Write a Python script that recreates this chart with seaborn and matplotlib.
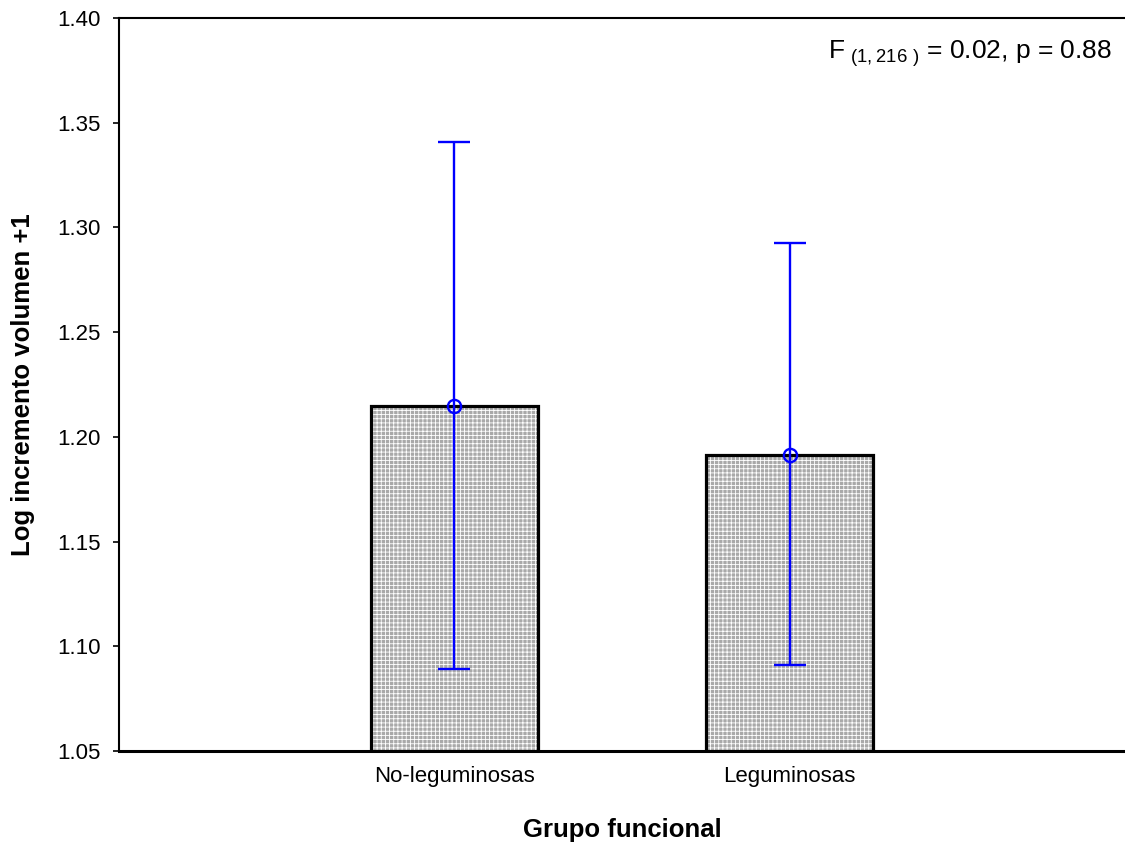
import matplotlib
matplotlib.use("Agg")
import matplotlib.pyplot as plt
import seaborn as sns
import pandas as pd
import numpy as np

# Group means of log(volume increment + 1) with their confidence limits
categories = ["No-leguminosas", "Leguminosas"]
means = [1.2145, 1.1915]
ci_low = [1.0891, 1.0910]
ci_high = [1.3408, 1.2926]
y_ticks = [1.05, 1.10, 1.15, 1.20, 1.25, 1.30, 1.35, 1.40]
stat_text = "F$_{\\mathregular{\\ (1,216\\ )}}$ = 0.02, p = 0.88"

df = pd.DataFrame({"grupo": categories, "media": means})

sns.set_style("white")
plt.rcParams["font.family"] = ["Liberation Sans", "DejaVu Sans"]
plt.rcParams["mathtext.fontset"] = "custom"
plt.rcParams["mathtext.rm"] = "Liberation Sans"
plt.rcParams["hatch.linewidth"] = 0.6
for key in ["text.color", "axes.labelcolor", "xtick.color", "ytick.color",
            "xtick.labelcolor", "ytick.labelcolor"]:
    plt.rcParams[key] = "black"

fig = plt.figure(figsize=(11.25, 8.47), dpi=100)
ax = fig.add_axes([119 / 1125, 96 / 847, 1006 / 1125, 733 / 847])

# Grey fill with a fine white grid
sns.barplot(data=df, x="grupo", y="media", order=categories, ax=ax,
            color="#a9a9a9", width=0.5, errorbar=None, saturation=1,
            edgecolor="white", linewidth=0, hatch="++++")
# Black outlines on top
sns.barplot(data=df, x="grupo", y="media", order=categories, ax=ax,
            fill=False, width=0.5, errorbar=None,
            edgecolor="black", linewidth=2.3)

xpos = np.arange(len(categories))
yerr = np.array([np.array(means) - np.array(ci_low),
                 np.array(ci_high) - np.array(means)])
ax.errorbar(xpos, means, yerr=yerr, fmt="o", color="#0000ff",
            markerfacecolor="none", markeredgecolor="#0000ff",
            markersize=9.5, markeredgewidth=1.7, elinewidth=1.7,
            capsize=11.5, capthick=1.7, zorder=5)

ax.set_xlim(-1, 2)
ax.set_ylim(1.05, 1.40)
ax.set_yticks(y_ticks)
ax.set_yticklabels([f"{v:.2f}" for v in y_ticks])

for side in ["left", "top", "bottom"]:
    ax.spines[side].set_visible(True)
    ax.spines[side].set_color("black")
ax.spines["left"].set_linewidth(1.5)
ax.spines["top"].set_linewidth(1.5)
ax.spines["bottom"].set_linewidth(2.2)
ax.spines["right"].set_visible(False)

ax.tick_params(axis="y", direction="out", length=4, width=1.2, pad=9,
               labelsize=16, left=True)
ax.tick_params(axis="x", direction="in", length=4, width=1.2, pad=11,
               labelsize=16, bottom=True)

ax.set_xlabel("Grupo funcional", fontsize=18.5, fontweight="bold", labelpad=22)
ax.set_ylabel("Log incremento volumen +1", fontsize=18.5, fontweight="bold",
              labelpad=16)

ax.text(0.987, 0.945, stat_text, transform=ax.transAxes, ha="right",
        va="baseline", fontsize=19)

fig.savefig("out.png", dpi=100)
